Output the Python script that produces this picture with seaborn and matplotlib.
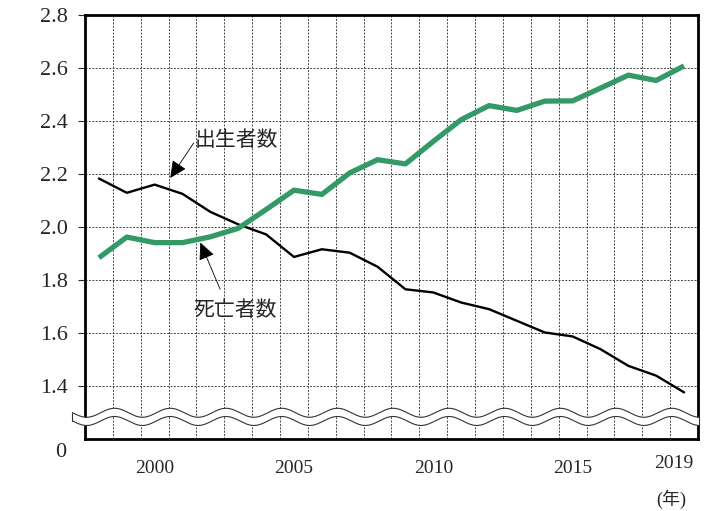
import numpy as np
import pandas as pd
import matplotlib
matplotlib.use("Agg")
import matplotlib.pyplot as plt
import seaborn as sns

years = list(range(1998, 2020))
black_vals = [2.183, 2.129, 2.160, 2.125, 2.057, 2.010, 1.972, 1.887, 1.916, 1.903, 1.850,
              1.765, 1.753, 1.715, 1.690, 1.646, 1.602, 1.587, 1.539, 1.476, 1.439, 1.376]
green_vals = [1.884, 1.962, 1.941, 1.941, 1.963, 1.995, 2.066, 2.139, 2.123, 2.204, 2.254,
              2.238, 2.323, 2.405, 2.458, 2.440, 2.475, 2.476, 2.524, 2.573, 2.553, 2.608]
label_black = "出生者数"
label_green = "死亡者数"
ytick_vals = [1.4, 1.6, 1.8, 2.0, 2.2, 2.4, 2.6, 2.8]
ytick_labels = ["1.4", "1.6", "1.8", "2.0", "2.2", "2.4", "2.6", "2.8"]
xtick_vals = [2000, 2005, 2010, 2015]
xtick_labels = ["2000", "2005", "2010", "2015"]
last_year_label = "2019"
unit_label = "(年)"
zero_label = "0"

sns.set_style("white")
plt.rcParams["font.family"] = ["Liberation Serif", "Noto Sans CJK JP"]

df = pd.DataFrame({"year": years + years,
                   "value": black_vals + green_vals,
                   "series": [label_black] * len(years) + [label_green] * len(years)})

fig = plt.figure(figsize=(7.12, 5.11), dpi=100)
ax = fig.add_axes([85 / 712, 1 - 439 / 511, (698 - 85) / 712, (439 - 15) / 511])

sns.lineplot(data=df[df.series == label_black], x="year", y="value", color="black",
             linewidth=1.7, ax=ax, legend=False, zorder=4)
sns.lineplot(data=df[df.series == label_green], x="year", y="value", color="#339966",
             linewidth=3.8, ax=ax, legend=False, zorder=5, solid_capstyle="butt")

ax.set_xlim(1997.5, 2019.5)
ax.set_ylim(1.2, 2.8)
ax.set_xlabel("")
ax.set_ylabel("")

# grid
for x in np.arange(1998.5, 2019.0, 1.0):
    ax.axvline(x, color="#444444", lw=0.7, ls=(0, (2, 1.5)), zorder=1)
for y in ytick_vals[:-1]:
    ax.axhline(y, color="#444444", lw=0.7, ls=(0, (2, 1.5)), zorder=1)

ax.set_yticks(ytick_vals)
ax.set_yticklabels(ytick_labels, fontsize=16)
ax.set_xticks(xtick_vals)
ax.set_xticklabels(xtick_labels, fontsize=14)
ax.tick_params(axis="y", length=5, width=0.8, direction="out", pad=7, left=True)
ax.tick_params(axis="x", length=0, pad=15)
for s in ax.spines.values():
    s.set_linewidth(2.0)
    s.set_color("black")

# extra labels
ax.text(-0.031, -0.033, zero_label, transform=ax.transAxes, ha="right", va="center", fontsize=16)
ax.text(2018.62, 1.106, last_year_label, ha="center", va="center", fontsize=14, clip_on=False)
ax.text(2018.55, 0.971, unit_label, ha="center", va="center", fontsize=13, clip_on=False)

# axis break wave
xw = np.linspace(1997.05, 2019.55, 800)
amp = 0.017
y_up = 1.299 + amp * np.sin(np.pi * (xw - 1998.06))
y_dn = 1.268 + amp * np.sin(np.pi * (xw - 1998.06))
ax.fill_between(xw, y_dn, y_up, color="white", zorder=10, clip_on=False, lw=0)
ax.plot(xw, y_up, color="#333333", lw=0.8, zorder=11, clip_on=False)
ax.plot(xw, y_dn, color="#333333", lw=0.8, zorder=11, clip_on=False)
ax.plot([xw[0], xw[0]], [y_dn[0], y_up[0]], color="#333333", lw=0.8, zorder=11, clip_on=False)
ax.plot([xw[-1], xw[-1]], [y_dn[-1], y_up[-1]], color="#333333", lw=0.8, zorder=11, clip_on=False)

# annotations
ax.text(2002.92, 2.33, label_black, ha="center", va="center", fontsize=15, zorder=12,
        family=["Noto Sans CJK JP"])
ax.annotate("", xy=(2000.56, 2.185), xytext=(2001.40, 2.317),
            arrowprops=dict(arrowstyle="-|>,head_length=1.05,head_width=0.5", color="black",
                            lw=0.6, shrinkA=0, shrinkB=0), zorder=12)
ax.text(2002.9, 1.686, label_green, ha="center", va="center", fontsize=15, zorder=12,
        family=["Noto Sans CJK JP"])
ax.annotate("", xy=(2001.64, 1.941), xytext=(2002.35, 1.765),
            arrowprops=dict(arrowstyle="-|>,head_length=1.05,head_width=0.5", color="black",
                            lw=0.6, shrinkA=0, shrinkB=0), zorder=12)

fig.savefig("out.png", dpi=100)
